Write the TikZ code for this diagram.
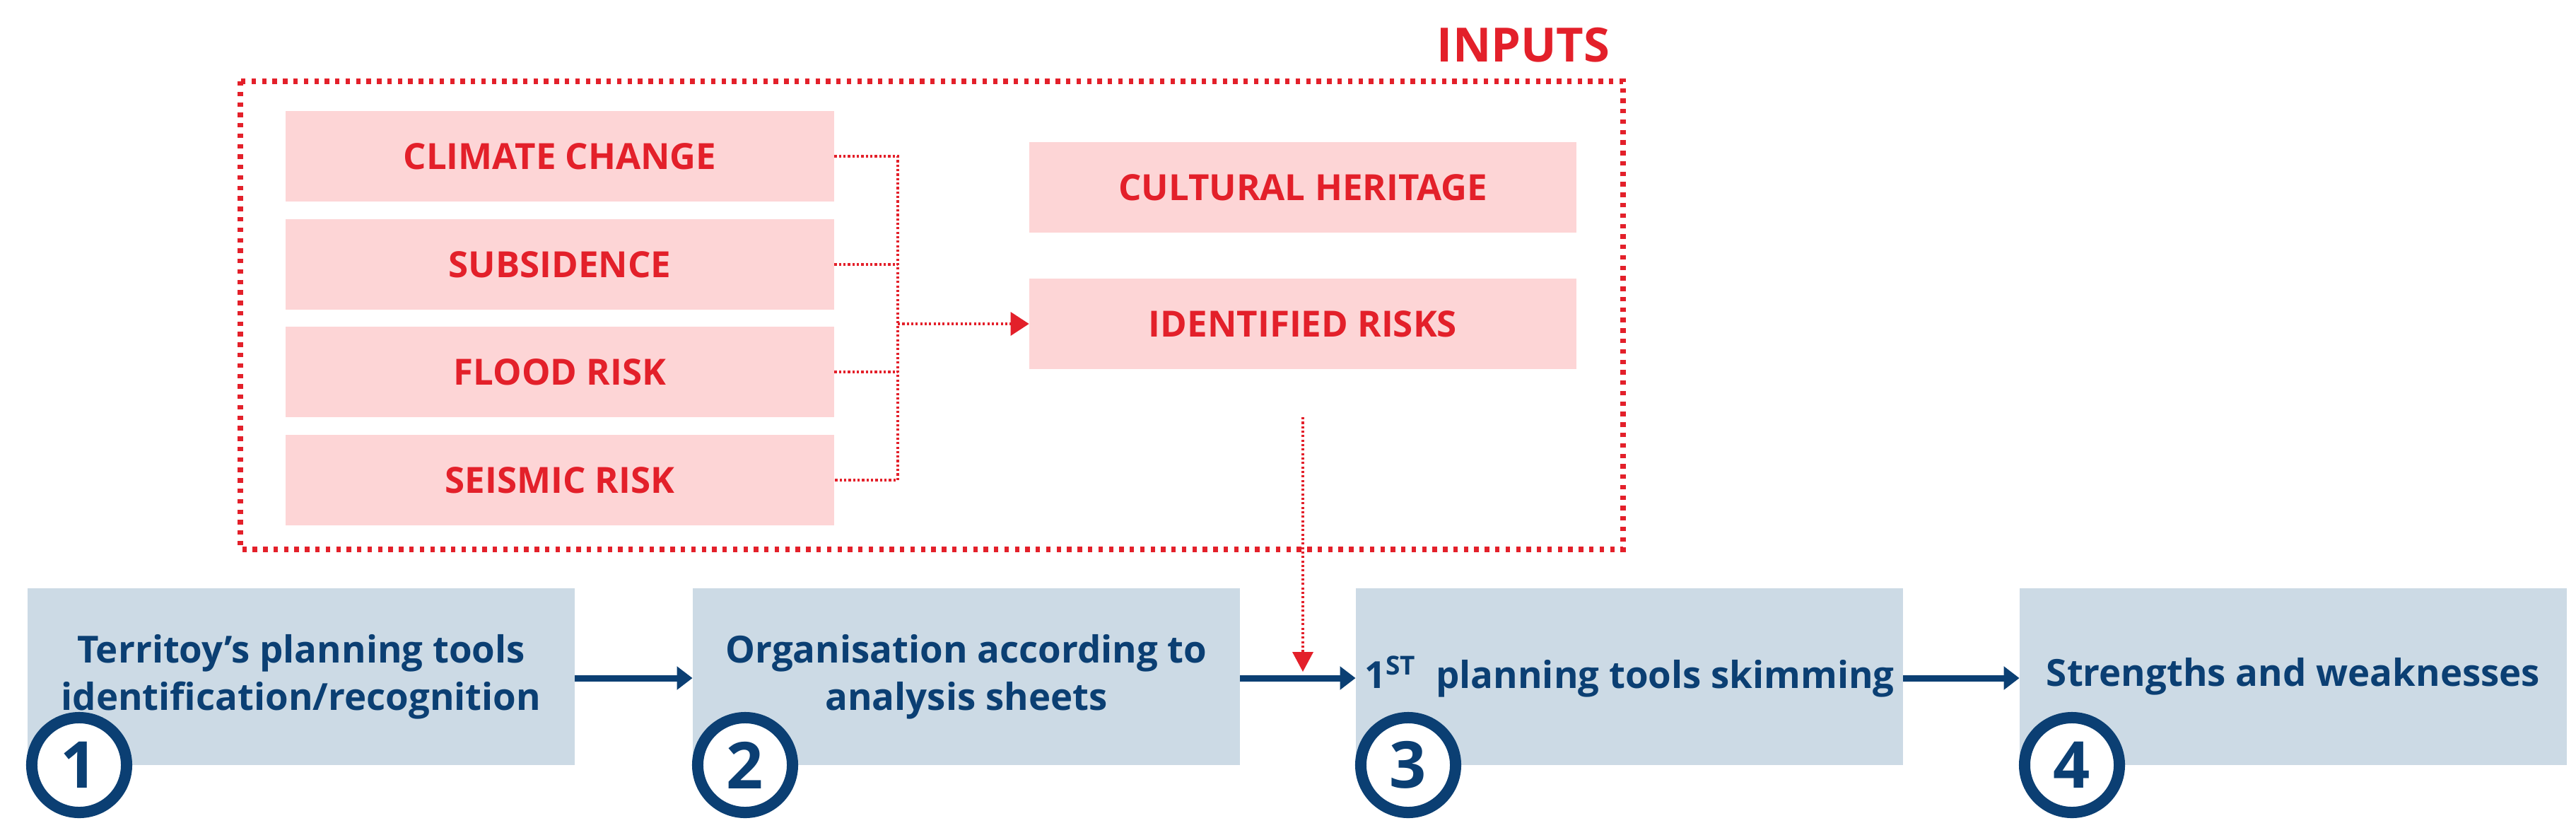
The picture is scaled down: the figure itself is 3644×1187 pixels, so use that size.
\documentclass[tikz,border=0pt]{standalone}
\usepackage{fontspec}
\setmainfont{Open Sans}
\usetikzlibrary{arrows.meta,calc}
\definecolor{pinkf}{HTML}{FDD5D6}
\definecolor{redc}{HTML}{E3202A}
\definecolor{bluef}{HTML}{CCDAE5}
\definecolor{navy}{HTML}{0B3F73}
\tikzset{
 inbox/.style={fill=pinkf,minimum width=7.75cm,minimum height=1.27cm,inner sep=0pt,text=redc,font=\bfseries\fontsize{14.5}{17}\selectfont},
 stepbox/.style={fill=bluef,minimum width=7.73cm,minimum height=2.49cm,inner sep=0pt,text=navy,align=center,font=\bfseries\fontsize{15}{19}\selectfont},
 numc/.style={circle,draw=navy,line width=0.16cm,fill=white,minimum size=1.34cm,inner sep=0pt,text=navy,font=\bfseries\fontsize{26}{28}\selectfont},
 thindot/.style={draw=redc,line width=1.1pt,dash pattern=on 0.9pt off 0.9pt},
 navyarrow/.style={draw=navy,line width=0.09cm,-{Triangle[length=0.22cm,width=0.32cm]}}
}
\begin{document}
\begin{tikzpicture}[x=0.01cm,y=-0.01cm]
\useasboundingbox (0,0) rectangle (3644,1187);
\draw[redc,line width=2.4pt,dash pattern=on 1.8pt off 2.4pt] (340,115) rectangle (2296,777);
\node[anchor=east,text=redc,inner sep=0pt,font=\bfseries\fontsize{19}{22}\selectfont] (inp) at (2278,64) {INPUTS};
\node[inbox] (cc) at (792,221) {CLIMATE CHANGE};
\node[inbox] (sub) at (792,374) {SUBSIDENCE};
\node[inbox] (fl) at (792,526) {FLOOD RISK};
\node[inbox] (se) at (792,679) {SEISMIC RISK};
\node[inbox,minimum width=7.73cm] (ch) at (1843,265) {CULTURAL HERITAGE};
\node[inbox,minimum width=7.73cm] (ir) at (1843,458) {IDENTIFIED RISKS};
\coordinate (b1) at (1270,221);
\coordinate (b4) at (1270,679);
\coordinate (bm) at (1270,458);
\draw[thindot] (cc.east) -- (b1) -- (b4) -- (se.east);
\draw[thindot] (sub.east) -- (sub.east -| b1);
\draw[thindot] (fl.east) -- (fl.east -| b1);
\draw[thindot] (bm) -- ($(ir.west)+(-20,0)$);
\fill[redc] (ir.west) -- ++(-26,-17) -- ++(0,34) -- cycle;
\node[stepbox] (s1) at (426,957) {Territoy’s planning tools\\identification/recognition};
\node[stepbox] (s2) at (1367,957) {Organisation according to\\analysis sheets};
\node[stepbox] (s3) at (2305,957) {1\textsuperscript{ST}\ \ planning tools skimming};
\node[stepbox] (s4) at (3244,957) {Strengths and weaknesses};
\draw[navyarrow] (s1.east |- 0,959) -- (s2.west |- 0,959);
\draw[navyarrow] (s2.east |- 0,959) -- (s3.west |- 0,959);
\draw[navyarrow] (s3.east |- 0,959) -- (s4.west |- 0,959);
\coordinate (rtop) at (1843,590);
\coordinate (rtip) at (1843,950);
\draw[thindot] (rtop) -- (1843,925);
\fill[redc] (rtip) -- ++(-15,-28) -- ++(30,0) -- cycle;
\node[numc] (n1) at (112,1082) {1};
\node[numc] (n2) at (1054,1082) {2};
\node[numc] (n3) at (1992,1082) {3};
\node[numc] (n4) at (2931,1082) {4};
\end{tikzpicture}
\end{document}
